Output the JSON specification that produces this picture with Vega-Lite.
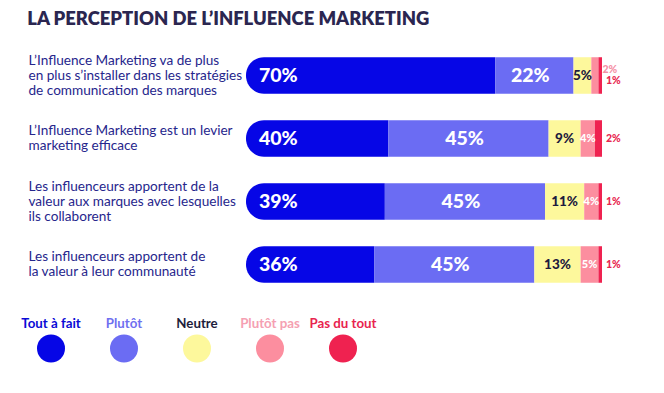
{
  "$schema": "https://vega.github.io/schema/vega-lite/v6.json",
  "background": "white",
  "padding": {"left": 21, "top": 9, "right": 0, "bottom": 0},
  "title": {"text": "LA PERCEPTION DE L’INFLUENCE MARKETING", "anchor": "start", "dx": 6, "font": "Lato", "fontSize": 18.4, "fontWeight": 800, "color": "#2b2650", "offset": 16},
  "config": {"view": {"stroke": null}, "font": "Lato"},
  "spacing": 15,
  "resolve": {"scale": {"color": "independent", "x": "independent", "y": "independent"}},
  "datasets": {
    "responses": [
      {"qid": 1, "question": "L’Influence Marketing va de plus|en plus s’installer dans les stratégies|de communication des marques", "cat": "Tout à fait", "order": 1, "value": 70},
      {"qid": 1, "question": "L’Influence Marketing va de plus|en plus s’installer dans les stratégies|de communication des marques", "cat": "Plutôt", "order": 2, "value": 22},
      {"qid": 1, "question": "L’Influence Marketing va de plus|en plus s’installer dans les stratégies|de communication des marques", "cat": "Neutre", "order": 3, "value": 5},
      {"qid": 1, "question": "L’Influence Marketing va de plus|en plus s’installer dans les stratégies|de communication des marques", "cat": "Plutôt pas", "order": 4, "value": 2},
      {"qid": 1, "question": "L’Influence Marketing va de plus|en plus s’installer dans les stratégies|de communication des marques", "cat": "Pas du tout", "order": 5, "value": 1},
      {"qid": 2, "question": "L’Influence Marketing est un levier|marketing efficace", "cat": "Tout à fait", "order": 1, "value": 40},
      {"qid": 2, "question": "L’Influence Marketing est un levier|marketing efficace", "cat": "Plutôt", "order": 2, "value": 45},
      {"qid": 2, "question": "L’Influence Marketing est un levier|marketing efficace", "cat": "Neutre", "order": 3, "value": 9},
      {"qid": 2, "question": "L’Influence Marketing est un levier|marketing efficace", "cat": "Plutôt pas", "order": 4, "value": 4},
      {"qid": 2, "question": "L’Influence Marketing est un levier|marketing efficace", "cat": "Pas du tout", "order": 5, "value": 2},
      {"qid": 3, "question": "Les influenceurs apportent de la|valeur aux marques avec lesquelles|ils collaborent", "cat": "Tout à fait", "order": 1, "value": 39},
      {"qid": 3, "question": "Les influenceurs apportent de la|valeur aux marques avec lesquelles|ils collaborent", "cat": "Plutôt", "order": 2, "value": 45},
      {"qid": 3, "question": "Les influenceurs apportent de la|valeur aux marques avec lesquelles|ils collaborent", "cat": "Neutre", "order": 3, "value": 11},
      {"qid": 3, "question": "Les influenceurs apportent de la|valeur aux marques avec lesquelles|ils collaborent", "cat": "Plutôt pas", "order": 4, "value": 4},
      {"qid": 3, "question": "Les influenceurs apportent de la|valeur aux marques avec lesquelles|ils collaborent", "cat": "Pas du tout", "order": 5, "value": 1},
      {"qid": 4, "question": "Les influenceurs apportent de|la valeur à leur communauté", "cat": "Tout à fait", "order": 1, "value": 36},
      {"qid": 4, "question": "Les influenceurs apportent de|la valeur à leur communauté", "cat": "Plutôt", "order": 2, "value": 45},
      {"qid": 4, "question": "Les influenceurs apportent de|la valeur à leur communauté", "cat": "Neutre", "order": 3, "value": 13},
      {"qid": 4, "question": "Les influenceurs apportent de|la valeur à leur communauté", "cat": "Plutôt pas", "order": 4, "value": 5},
      {"qid": 4, "question": "Les influenceurs apportent de|la valeur à leur communauté", "cat": "Pas du tout", "order": 5, "value": 1}
    ],
    "legend": [
      {"cat": "Tout à fait", "order": 1},
      {"cat": "Plutôt", "order": 2},
      {"cat": "Neutre", "order": 3},
      {"cat": "Plutôt pas", "order": 4},
      {"cat": "Pas du tout", "order": 5}
    ]
  },
  "vconcat": [
    {
      "width": 356,
      "height": 252,
      "data": {"name": "responses"},
      "transform": [
        {"stack": "value", "groupby": ["question"], "sort": [{"field": "order"}], "as": ["x0", "x1"]},
        {"calculate": "(datum.x0 + datum.x1) / 2", "as": "mid"},
        {"calculate": "datum.value + '%'", "as": "label"}
      ],
      "encoding": {
        "y": {
          "field": "question", "type": "nominal",
          "sort": {"field": "qid", "op": "min"},
          "scale": {"paddingInner": 0.42, "paddingOuter": 0.21},
          "axis": {"title": null, "domain": false, "ticks": false, "tickSize": 0, "labelAlign": "left", "labelPadding": 218, "labelExpr": "split(datum.value, '|')", "labelFont": "Lato", "labelFontSize": 13.6, "labelColor": "#26268c", "labelLineHeight": 15, "labelBaseline": "middle", "labelLimit": 0,
            "labelOffset": {"condition": {"test": "length(split(datum.value, '|')) == 3", "value": -15}, "value": -7.5}}
        }
      },
      "layer": [
        {
          "transform": [{"filter": "datum.cat == 'Tout à fait'"}],
          "mark": {"type": "bar", "cornerRadiusTopLeft": 18, "cornerRadiusBottomLeft": 18},
          "encoding": {
            "x": {"field": "x0", "type": "quantitative", "scale": {"domain": [0, 100]}, "axis": null},
            "x2": {"field": "x1"},
            "color": {"field": "cat", "type": "nominal", "scale": {"domain": ["Tout à fait", "Plutôt", "Neutre", "Plutôt pas", "Pas du tout"], "range": ["#0606e6", "#6b6cf3", "#fdf89c", "#fc8e9f", "#ef2250"]}, "legend": null}
          }
        },
        {
          "transform": [{"filter": "datum.cat != 'Tout à fait'"}],
          "mark": {"type": "bar"},
          "encoding": {
            "x": {"field": "x0", "type": "quantitative", "scale": {"domain": [0, 100]}, "axis": null},
            "x2": {"field": "x1"},
            "color": {"field": "cat", "type": "nominal", "legend": null}
          }
        },
        {
          "transform": [{"filter": "datum.cat == 'Tout à fait'"}],
          "mark": {"type": "text", "align": "left", "dx": 13, "baseline": "middle", "font": "Lato", "fontWeight": 900, "fontSize": 19.5, "color": "white"},
          "encoding": {"x": {"field": "x0", "type": "quantitative"}, "text": {"field": "label"}}
        },
        {
          "transform": [{"filter": "datum.cat == 'Plutôt'"}],
          "mark": {"type": "text", "align": "center", "dx": -4, "baseline": "middle", "font": "Lato", "fontWeight": 900, "fontSize": 19.5, "color": "white"},
          "encoding": {"x": {"field": "mid", "type": "quantitative"}, "text": {"field": "label"}}
        },
        {
          "transform": [{"filter": "datum.cat == 'Neutre'"}],
          "mark": {"type": "text", "align": "center", "baseline": "middle", "font": "Lato", "fontWeight": 900, "fontSize": 13.5, "color": "#1d1b3e"},
          "encoding": {"x": {"field": "mid", "type": "quantitative"}, "text": {"field": "label"}}
        },
        {
          "transform": [{"filter": "datum.cat == 'Plutôt pas' && datum.value >= 4"}],
          "mark": {"type": "text", "align": "center", "baseline": "middle", "font": "Lato", "fontWeight": 900, "fontSize": 11, "color": "white"},
          "encoding": {"x": {"field": "mid", "type": "quantitative"}, "text": {"field": "label"}}
        },
        {
          "transform": [{"filter": "datum.cat == 'Plutôt pas' && datum.value < 4"}],
          "mark": {"type": "text", "align": "left", "dx": 4, "dy": -6, "baseline": "middle", "font": "Lato", "fontWeight": 900, "fontSize": 10.5, "color": "#f590a5"},
          "encoding": {"x": {"field": "x1", "type": "quantitative"}, "text": {"field": "label"}}
        },
        {
          "transform": [{"filter": "datum.cat == 'Pas du tout' && datum.qid == 1"}],
          "mark": {"type": "text", "align": "left", "dx": 4, "dy": 5, "baseline": "middle", "font": "Lato", "fontWeight": 900, "fontSize": 10.5, "color": "#e8264f"},
          "encoding": {"x": {"field": "x1", "type": "quantitative"}, "text": {"field": "label"}}
        },
        {
          "transform": [{"filter": "datum.cat == 'Pas du tout' && datum.qid != 1"}],
          "mark": {"type": "text", "align": "left", "dx": 4, "baseline": "middle", "font": "Lato", "fontWeight": 900, "fontSize": 10.5, "color": "#e8264f"},
          "encoding": {"x": {"field": "x1", "type": "quantitative"}, "text": {"field": "label"}}
        }
      ]
    },
    {
      "width": 356,
      "height": 50,
      "data": {"name": "legend"},
      "encoding": {
        "x": {"field": "cat", "type": "nominal", "sort": {"field": "order", "op": "min"}, "scale": {"type": "point", "padding": 0, "range": [-195, 97]}, "axis": null}
      },
      "layer": [
        {
          "mark": {"type": "text", "align": "center", "baseline": "middle", "font": "Lato", "fontWeight": 700, "fontSize": 13.3},
          "encoding": {
            "y": {"datum": "label", "type": "nominal", "scale": {"domain": ["label", "swatch"]}, "axis": null},
            "text": {"field": "cat"},
            "color": {"field": "cat", "type": "nominal", "scale": {"domain": ["Tout à fait", "Plutôt", "Neutre", "Plutôt pas", "Pas du tout"], "range": ["#0a0ad6", "#6f6ff0", "#1e1d3c", "#f5a0b2", "#e8254f"]}, "legend": null}
          }
        },
        {
          "mark": {"type": "point", "shape": "circle", "filled": true, "size": 784, "opacity": 1},
          "encoding": {
            "y": {"datum": "swatch", "type": "nominal"},
            "fill": {"field": "cat", "type": "nominal", "scale": {"domain": ["Tout à fait", "Plutôt", "Neutre", "Plutôt pas", "Pas du tout"], "range": ["#0606e6", "#6b6cf3", "#fdf89c", "#fc8e9f", "#ef2250"]}, "legend": null}
          }
        }
      ]
    }
  ]
}
